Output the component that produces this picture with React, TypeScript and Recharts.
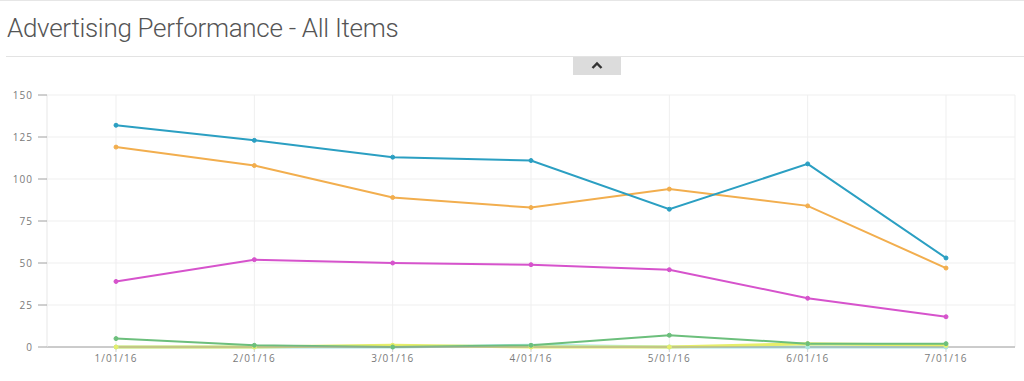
import { LineChart, Line, XAxis, YAxis, CartesianGrid } from "recharts"

const months = ["1/01/16", "2/01/16", "3/01/16", "4/01/16", "5/01/16", "6/01/16", "7/01/16"]
const blueVals = [132, 123, 113, 111, 82, 109, 53]
const orangeVals = [119, 108, 89, 83, 94, 84, 47]
const pinkVals = [39, 52, 50, 49, 46, 29, 18]
const greenVals = [5, 1, 0, 1, 7, 2, 2]
const cyanVals = [0, 0, 0, 1, 0, 0, 0]
const yellowVals = [0, 0, 1, 0, 0, 2, 1]
const yTicks = [0, 25, 50, 75, 100, 125, 150]

const data = months.map((m, i) => ({
    month: m,
    blue: blueVals[i],
    orange: orangeVals[i],
    pink: pinkVals[i],
    green: greenVals[i],
    cyan: cyanVals[i],
    yellow: yellowVals[i],
}))

const series = [
    { key: "cyan", color: "#a8e6e2", width: 3 },
    { key: "yellow", color: "#e6ee6a", width: 3 },
    { key: "green", color: "#6cbf7c", width: 2 },
    { key: "pink", color: "#d653cc", width: 2 },
    { key: "orange", color: "#f2ae4e", width: 2 },
    { key: "blue", color: "#2b9fc2", width: 2 },
]

const tickStyle = { fontSize: 10, fill: "#7a7a7a", fontFamily: "'Open Sans', sans-serif", letterSpacing: 1 }

export default function App() {
    return (
        <div style={{ position: "absolute", left: 0, top: 0, width: 1024, height: 381, background: "#fff", overflow: "hidden" }}>
            <div style={{ position: "absolute", left: 0, top: 0, width: 1024, height: 1, background: "#e6e6e6" }} />
            <div
                style={{
                    position: "absolute",
                    left: 7,
                    top: 13,
                    fontFamily: "Roboto, sans-serif",
                    fontWeight: 300,
                    fontSize: 26,
                    letterSpacing: -0.3,
                    color: "#555",
                    whiteSpace: "nowrap",
                }}
            >
                Advertising Performance - All Items
            </div>
            <div style={{ position: "absolute", left: 6, top: 56, width: 1018, height: 1, background: "#e3e3e3" }} />
            <div style={{ position: "absolute", left: 573, top: 57, width: 48, height: 18, background: "#dcdcdc" }}>
                <svg width={48} height={18}>
                    <polyline points="19.5,11 24,6.5 28.5,11" fill="none" stroke="#333" strokeWidth={2.4} />
                </svg>
            </div>
            <div style={{ position: "absolute", left: 0, top: 85 }}>
                <LineChart width={1024} height={297} data={data} margin={{ top: 10, right: 9, left: 0, bottom: 10 }}>
                    <CartesianGrid stroke="#efefef" />
                    <XAxis
                        dataKey="month"
                        padding={{ left: 69, right: 69 }}
                        axisLine={{ stroke: "#a0a0a0" }}
                        tickLine={{ stroke: "#cfcfcf" }}
                        tickSize={5}
                        tickMargin={3}
                        height={25}
                        tick={tickStyle}
                    />
                    <YAxis
                        domain={[0, 150]}
                        ticks={yTicks}
                        width={47}
                        axisLine={{ stroke: "#efefef" }}
                        tickLine={{ stroke: "#a0a0a0" }}
                        tickSize={9}
                        tickMargin={5}
                        tick={tickStyle}
                    />
                    <YAxis yAxisId="right" orientation="right" width={0} tick={false} tickLine={false} axisLine={{ stroke: "#efefef" }} />
                    {series.map((s) => (
                        <Line
                            key={s.key}
                            dataKey={s.key}
                            stroke={s.color}
                            strokeWidth={s.width}
                            dot={{ r: 2, fill: s.color, stroke: s.color, strokeWidth: 1 }}
                            activeDot={false}
                            isAnimationActive={false}
                        />
                    ))}
                </LineChart>
            </div>
        </div>
    )
}
